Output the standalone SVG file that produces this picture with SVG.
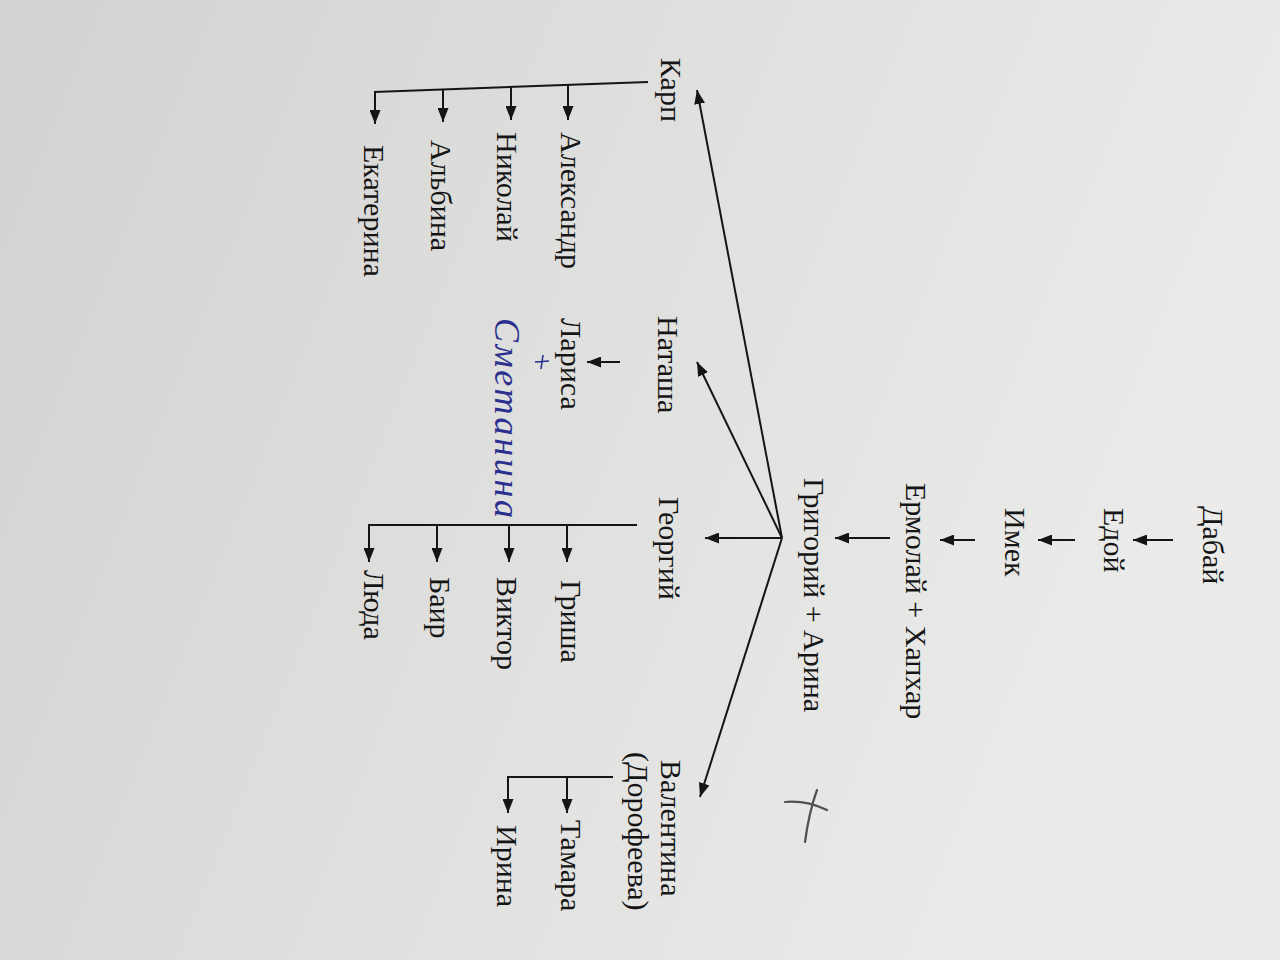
<svg xmlns="http://www.w3.org/2000/svg" width="1280" height="960" viewBox="0 0 1280 960">
<defs>
<linearGradient id="bg" x1="0" y1="0" x2="1" y2="0.3">
<stop offset="0" stop-color="#d2d2d0"/>
<stop offset="0.5" stop-color="#dfdfdd"/>
<stop offset="1" stop-color="#ebebe9"/>
</linearGradient>
<marker id="ah" viewBox="0 0 14 11" refX="14" refY="5.5" markerWidth="14" markerHeight="11" markerUnits="userSpaceOnUse" orient="auto">
<path d="M0,0 L14,5.5 L0,11 z" fill="#151515"/>
</marker>
<style>
.t{font-family:"Liberation Serif","Times New Roman",serif;font-size:30px;fill:#151515}
.hw{font-family:"Liberation Serif",serif;font-style:italic;font-size:36px;fill:#2b2f8f}
.c{stroke:#151515;stroke-width:2;fill:none}
.a{stroke:#151515;stroke-width:2;fill:none;marker-end:url(#ah)}
</style>
</defs>
<rect width="1280" height="960" fill="url(#bg)"/>
<g id="connectors">
<line class="a" x1="1173" y1="540" x2="1133" y2="540"/>
<line class="a" x1="1075" y1="540" x2="1038" y2="540"/>
<line class="a" x1="975" y1="540" x2="940" y2="540"/>
<line class="a" x1="890" y1="538" x2="835" y2="538"/>
<line class="a" x1="782" y1="538" x2="705" y2="538"/>
<line class="a" x1="782" y1="538" x2="697" y2="362"/>
<line class="a" x1="782" y1="538" x2="697" y2="90"/>
<line class="a" x1="782" y1="538" x2="700" y2="797"/>
<line class="a" x1="620" y1="362" x2="587" y2="362"/>
<line class="c" x1="637" y1="525" x2="368" y2="525"/>
<line class="a" x1="567" y1="525" x2="567" y2="562"/>
<line class="a" x1="509" y1="525" x2="509" y2="562"/>
<line class="a" x1="437" y1="525" x2="437" y2="562"/>
<line class="a" x1="369" y1="524" x2="369" y2="562"/>
<line class="c" x1="648" y1="82" x2="374" y2="92"/>
<line class="a" x1="568" y1="85" x2="568" y2="120"/>
<line class="a" x1="511" y1="87" x2="511" y2="120"/>
<line class="a" x1="443" y1="89" x2="443" y2="122"/>
<line class="a" x1="375" y1="91" x2="375" y2="124"/>
<line class="c" x1="613" y1="777" x2="507" y2="777"/>
<line class="a" x1="567" y1="777" x2="567" y2="813"/>
<line class="a" x1="508" y1="776" x2="508" y2="813"/>
</g>
<g id="n-dabai"><text class="t" transform="translate(1203,506) rotate(90)">Дабай</text></g>
<g id="n-edoy"><text class="t" transform="translate(1104,508) rotate(90)">Едой</text></g>
<g id="n-imek"><text class="t" transform="translate(1005,508) rotate(90)">Имек</text></g>
<g id="n-ermolay"><text class="t" transform="translate(906,483) rotate(90)">Ермолай + Хапхар</text></g>
<g id="n-grigoriy"><text class="t" transform="translate(804,478) rotate(90)">Григорий + Арина</text></g>
<g id="n-georgiy"><text class="t" transform="translate(659,497) rotate(90)">Георгий</text></g>
<g id="n-natasha"><text class="t" transform="translate(658,316) rotate(90)">Наташа</text></g>
<g id="n-karp"><text class="t" transform="translate(661,58) rotate(90)">Карп</text></g>
<g id="n-valentina"><text class="t" transform="translate(661,760) rotate(90)">Валентина</text><text class="t" transform="translate(628,752) rotate(90)">(Дорофеева)</text></g>
<g id="n-grisha"><text class="t" transform="translate(561,580) rotate(90)">Гриша</text></g>
<g id="n-viktor"><text class="t" transform="translate(497,577) rotate(90)">Виктор</text></g>
<g id="n-bair"><text class="t" transform="translate(430,577) rotate(90)">Баир</text></g>
<g id="n-lyuda"><text class="t" transform="translate(364,570) rotate(90)">Люда</text></g>
<g id="n-larisa"><text class="t" transform="translate(561,318) rotate(90)">Лариса</text>
<path d="M535,362 L549,361 M543,355 L541,369" stroke="#2b2f8f" stroke-width="1.6" fill="none"/>
<text class="hw" transform="translate(495,318) rotate(90)" textLength="200" lengthAdjust="spacing">Сметанина</text></g>
<g id="n-aleksandr"><text class="t" transform="translate(561,132) rotate(90)">Александр</text></g>
<g id="n-nikolay"><text class="t" transform="translate(497,132) rotate(90)">Николай</text></g>
<g id="n-albina"><text class="t" transform="translate(431,140) rotate(90)">Альбина</text></g>
<g id="n-ekaterina"><text class="t" transform="translate(364,145) rotate(90)">Екатерина</text></g>
<g id="n-tamara"><text class="t" transform="translate(561,820) rotate(90)">Тамара</text></g>
<g id="n-irina"><text class="t" transform="translate(497,825) rotate(90)">Ирина</text></g>
<g id="mark"><path d="M785,802 Q806,800 827,810 M817,790 Q809,812 805,842" stroke="#505050" stroke-width="2.2" fill="none" stroke-linecap="round"/></g>
</svg>
